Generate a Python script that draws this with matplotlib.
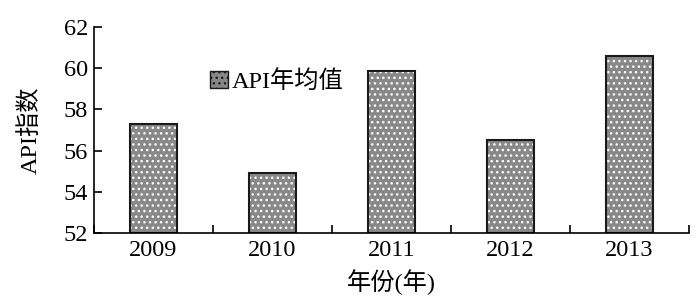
import matplotlib
matplotlib.use('Agg')
import matplotlib.pyplot as plt
from matplotlib.patches import Patch

years = ['2009', '2010', '2011', '2012', '2013']
api_mean = [57.3, 54.9, 59.85, 56.5, 60.6]
y_ticks = [52, 54, 56, 58, 60, 62]

plt.rcParams['font.family'] = ['Liberation Serif', 'Noto Sans CJK SC']
plt.rcParams['hatch.linewidth'] = 1.0

fig = plt.figure(figsize=(7, 3.04), dpi=100)
ax = fig.add_axes([0.134, 0.234, 0.850, 0.677])

x = list(range(len(years)))
# gray fill with white dots, then black outline on top
ax.bar(x, [v - 52 for v in api_mean], bottom=52, width=0.4, color='#888888',
       edgecolor='white', hatch='...', linewidth=0)
ax.bar(x, [v - 52 for v in api_mean], bottom=52, width=0.4, fill=False,
       edgecolor='#1a1a1a', linewidth=1.5)

ax.set_xlim(-0.5, len(years) - 0.5)
ax.set_ylim(52, 62)
ax.set_yticks(y_ticks)
ax.set_xticks([i + 0.5 for i in range(-1, len(years))], minor=False)
ax.set_xticklabels([])
ax.set_xticks(x, minor=True)
ax.set_xticklabels(years, minor=True)
ax.tick_params(axis='x', which='major', direction='in', length=6, width=1.2)
ax.tick_params(axis='x', which='minor', length=0, labelsize=17.5, pad=5)
ax.tick_params(axis='y', direction='in', length=6, width=1.2, labelsize=17.5, pad=4)

for s in ['top', 'right']:
    ax.spines[s].set_visible(False)
for s in ['left', 'bottom']:
    ax.spines[s].set_linewidth(1.2)

ax.set_ylabel('API指数', fontsize=17.5, labelpad=16)
ax.set_xlabel('年份(年)', fontsize=17.5, labelpad=6)

handle = Patch(facecolor='#888888', edgecolor='#1a1a1a', hatch='...', linewidth=1)
ax.legend([handle], ['API年均值'], loc='upper left', bbox_to_anchor=(0.175, 0.85),
          frameon=False, fontsize=17.5, handlelength=0.75, handleheight=0.75,
          handletextpad=0.15, borderpad=0)

fig.savefig('out.png', dpi=100)
